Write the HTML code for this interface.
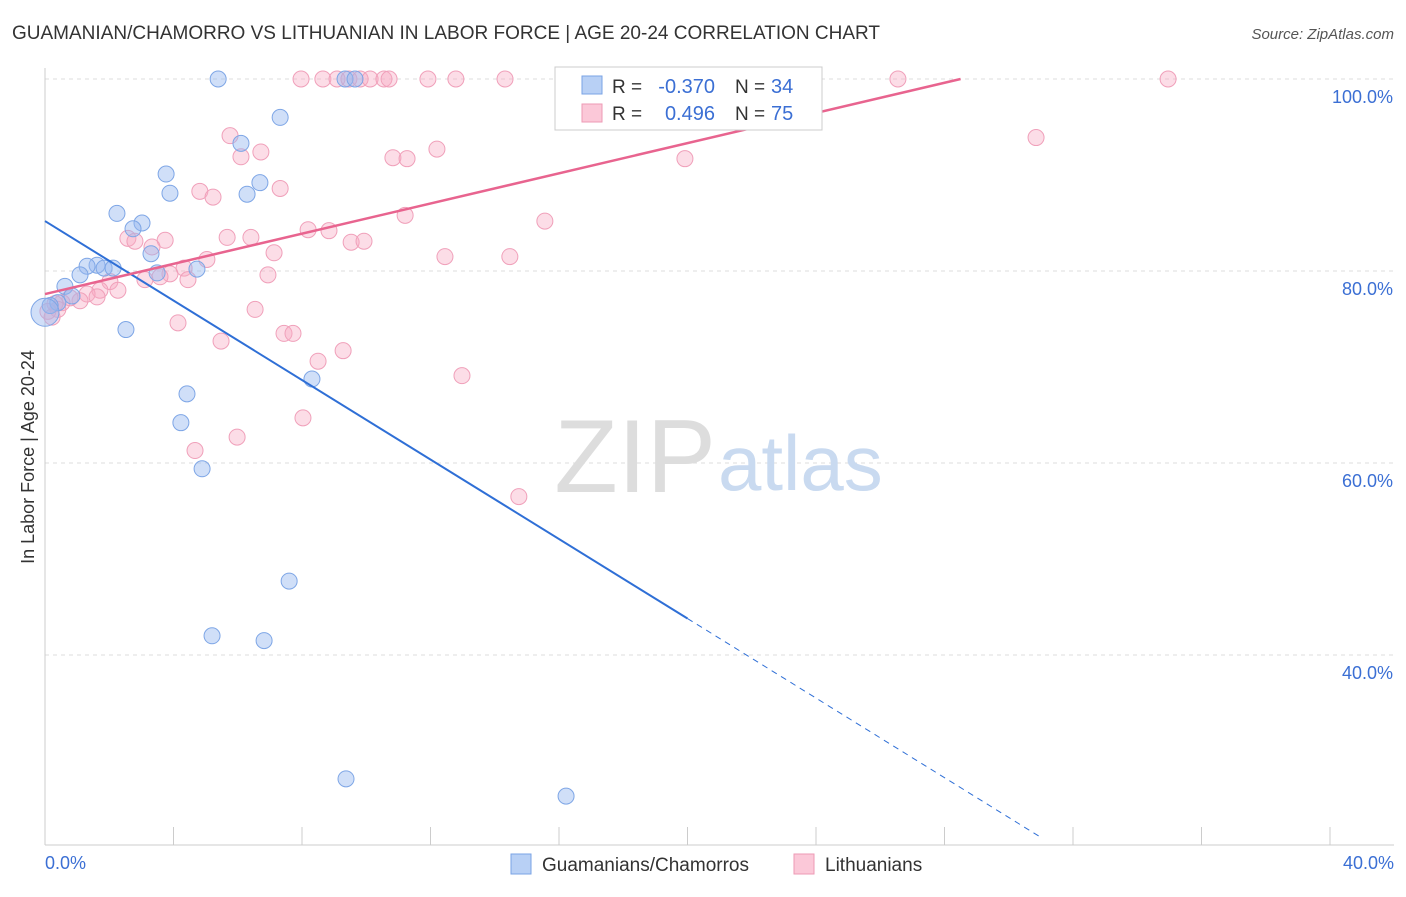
<!DOCTYPE html>
<html><head><meta charset="utf-8"><style>
body{margin:0;background:#fff;font-family:"Liberation Sans",sans-serif;}
svg text{font-family:"Liberation Sans",sans-serif;}
</style></head><body>
<svg width="1406" height="892">
<text x="12" y="39" font-size="19" fill="#333" textLength="868">GUAMANIAN/CHAMORRO VS LITHUANIAN IN LABOR FORCE | AGE 20-24 CORRELATION CHART</text>
<text x="1394" y="39" font-size="15" fill="#555" font-style="italic" text-anchor="end">Source: ZipAtlas.com</text>
<g id="grid"></g>
<text x="716" y="492" font-size="104" fill="#ddd" text-anchor="end" font-family="Liberation Serif">ZIP</text>
<text x="718" y="490" font-size="78" fill="#c9daf0">atlas</text>
<g id="pts"></g>
<g id="lines"></g>
<text x="34" y="457" font-size="18" fill="#333" text-anchor="middle" transform="rotate(-90 34 457)">In Labor Force | Age 20-24</text>
<text x="45" y="869" font-size="18" fill="#3b6fd4">0.0%</text>
<text x="1394" y="869" font-size="18" fill="#3b6fd4" text-anchor="end">40.0%</text>
<g>
<rect x="555" y="67" width="267" height="63" fill="#fff" stroke="#ccc"/>
<rect x="582" y="76" width="20" height="18" fill="#b8d0f5" stroke="#7aa3e5"/>
<rect x="582" y="104" width="20" height="18" fill="#fbc8d8" stroke="#ee9ab5"/>
<text x="612" y="93" font-size="19" fill="#333">R =</text>
<text x="715" y="93" font-size="20" fill="#3b6fd4" text-anchor="end">-0.370</text>
<text x="735" y="93" font-size="19" fill="#333">N =</text>
<text x="771" y="93" font-size="20" fill="#3b6fd4">34</text>
<text x="612" y="120" font-size="19" fill="#333">R =</text>
<text x="715" y="120" font-size="20" fill="#3b6fd4" text-anchor="end">0.496</text>
<text x="735" y="120" font-size="19" fill="#333">N =</text>
<text x="771" y="120" font-size="20" fill="#3b6fd4">75</text>
</g>
<g>
<rect x="511" y="854" width="20" height="20" fill="#b8d0f5" stroke="#7aa3e5"/>
<text x="542" y="871" font-size="19" fill="#333">Guamanians/Chamorros</text>
<rect x="794" y="854" width="20" height="20" fill="#fbc8d8" stroke="#ee9ab5"/>
<text x="825" y="871" font-size="19" fill="#333">Lithuanians</text>
</g>
</svg>
<script>
const yTicks=[100,80,60,40];
const xTickCount=10;
const blueX=[5.39,7.32,6.10,3.77,3.89,6.29,6.69,2.24,3.02,2.74,3.30,1.62,1.31,1.84,2.12,1.09,3.49,4.73,0.62,0.84,0.40,0.16,0.0,2.52,4.42,4.23,8.31,4.89,7.60,5.20,6.82,9.37,16.22,9.34,9.65];
const blueY=[100,96.0,93.3,90.1,88.1,88.0,89.2,86.0,85.0,84.4,81.8,80.6,80.5,80.3,80.3,79.6,79.8,80.2,78.4,77.4,76.7,76.4,75.7,73.9,67.2,64.2,68.75,59.4,47.7,42.0,41.5,27.1,25.3,100,100];
const pinkX=[7.97,8.65,9.09,9.46,9.81,10.12,10.55,10.71,11.92,12.79,14.32,16.65,22.88,26.55,34.96,5.76,6.10,6.72,10.83,12.20,11.27,19.92,30.85,4.82,5.23,7.32,11.21,15.56,8.19,8.84,5.67,6.41,2.58,2.80,3.74,3.33,9.53,9.93,7.13,5.04,12.45,14.47,4.33,3.89,6.94,4.45,3.58,3.11,2.02,2.27,1.71,1.31,1.62,1.09,0.78,0.53,0.31,0.40,6.54,4.14,7.44,7.72,5.48,8.50,9.28,12.98,8.03,4.67,5.98,14.75,0.09,0.22];
const pinkY=[100,100,100,100,100,100,100,100,100,100,100,100,100,100,100,94.1,91.9,92.4,91.8,92.7,91.7,91.7,93.9,88.3,87.7,88.6,85.8,85.2,84.3,84.2,83.5,83.5,83.4,83.1,83.2,82.5,83.0,83.1,81.9,81.2,81.5,81.5,80.3,79.7,79.6,79.1,79.4,79.1,78.9,78.0,78.0,77.6,77.3,76.9,77.2,76.7,76.6,76.0,76.0,74.6,73.5,73.5,72.7,70.6,71.7,69.1,64.7,61.3,62.7,56.5,75.8,75.2];
const blueLine=[85.2,43.8,20.9];
const pinkLine=[77.6,100];
const pinkLineX=[0,28.5];
const X=v=>45+v*32.125, Y=v=>79+(100-v)*9.6;
const NS="http://www.w3.org/2000/svg";
function mk(t,a,p){const e=document.createElementNS(NS,t);for(const k in a)e.setAttribute(k,a[k]);p.appendChild(e);return e;}
const g=document.getElementById('grid');
yTicks.forEach(v=>{
 const l=mk('line',{x1:45,x2:1394,y1:Y(v),y2:Y(v),stroke:'#ddd','stroke-dasharray':'4 4'},g);
 
 
 const t=mk('text',{x:1393,y:Y(v)+24,'font-size':18,fill:'#3b6fd4','text-anchor':'end'},g);t.textContent=v.toFixed(1)+'%';
 
 
});
mk('line',{x1:45,x2:45,y1:68,y2:845,stroke:'#ccc'},g);
mk('line',{x1:45,x2:1394,y1:845,y2:845,stroke:'#ccc'},g);
for(let i=0;i<=xTickCount;i++){const t=mk('line',{x1:X(i*4),x2:X(i*4),y1:827,y2:845,stroke:'#ccc'},g);
 
 }
const pg=document.getElementById('pts');
pinkX.forEach((x,i)=>{const c=mk('circle',{cx:X(x),cy:Y(pinkY[i]),r:8,fill:'rgba(248,170,195,0.4)',stroke:'#f0a0ba','stroke-width':1},pg);
 
 });
blueX.forEach((x,i)=>{const c=mk('circle',{cx:X(x),cy:Y(blueY[i]),r:(i==22?14:8),fill:'rgba(150,185,240,0.45)',stroke:'#7ea6e6','stroke-width':1},pg);
 
 });
const lg=document.getElementById('lines');
let l=mk('line',{x1:X(0),y1:Y(blueLine[0]),x2:X(20),y2:Y(blueLine[1]),stroke:'#2f6fd6','stroke-width':2},lg);


l=mk('line',{x1:X(20),y1:Y(blueLine[1]),x2:X(31.05),y2:Y(blueLine[2]),stroke:'#2f6fd6','stroke-width':1,'stroke-dasharray':'6 5'},lg);


l=mk('line',{x1:X(pinkLineX[0]),y1:Y(pinkLine[0]),x2:X(pinkLineX[1]),y2:Y(pinkLine[1]),stroke:'#e8648f','stroke-width':2.5},lg);


</script>
</body></html>
